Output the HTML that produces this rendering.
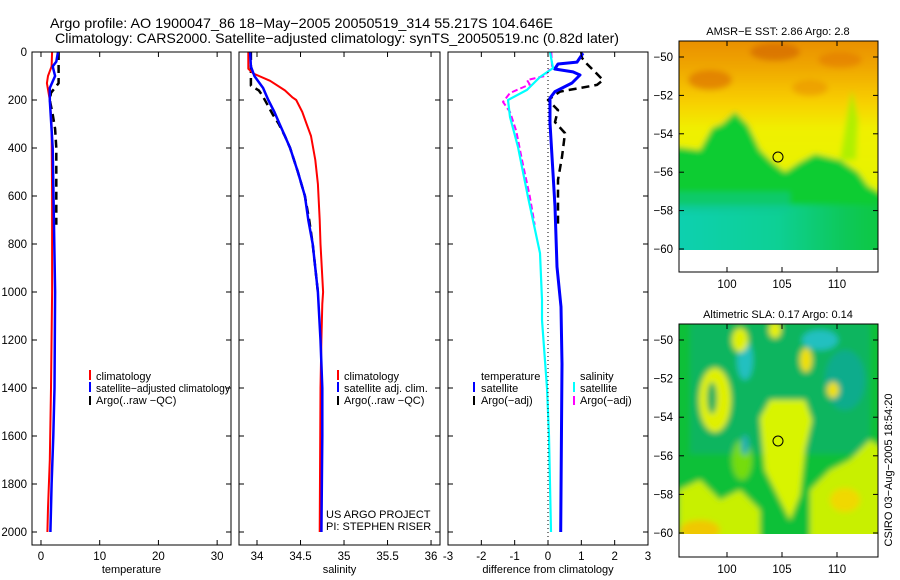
<!DOCTYPE html>
<html><head><meta charset="utf-8"><style>
html,body{margin:0;padding:0;background:#fff;}
svg{display:block;font-family:"Liberation Sans",sans-serif;}
</style></head><body>
<svg id="fig" width="900" height="580" viewBox="0 0 900 580">
<defs>
<filter id="blur3" x="-10%" y="-10%" width="120%" height="120%"><feGaussianBlur stdDeviation="3"/></filter>
<clipPath id="clipTop"><rect x="679" y="41" width="199" height="209"/></clipPath>
<clipPath id="clipBot"><rect x="679" y="324" width="199" height="210"/></clipPath>
<clipPath id="c1"><rect x="32" y="52" width="199" height="493"/></clipPath>
<clipPath id="c2"><rect x="239" y="52" width="201" height="493"/></clipPath>
<clipPath id="c3"><rect x="448" y="52" width="200" height="493"/></clipPath>
<linearGradient id="sstGrad" x1="0" y1="0" x2="0" y2="1">
<stop offset="0" stop-color="#e88a00"/><stop offset="0.15" stop-color="#f0a800"/><stop offset="0.3" stop-color="#f8d000"/><stop offset="0.42" stop-color="#f0f000"/><stop offset="1" stop-color="#d8f800"/>
</linearGradient>
<linearGradient id="cyanGrad" x1="0" y1="0" x2="1" y2="0">
<stop offset="0" stop-color="#10d0c0"/><stop offset="0.5" stop-color="#10d0a0"/><stop offset="0.8" stop-color="#10c860"/><stop offset="1" stop-color="#10c840"/>
</linearGradient>
</defs>

<text x="50" y="28" font-size="14" textLength="503" lengthAdjust="spacingAndGlyphs">Argo profile: AO 1900047_86 18−May−2005 20050519_314 55.217S 104.646E</text>
<text x="55" y="43" font-size="14" textLength="564" lengthAdjust="spacingAndGlyphs">Climatology: CARS2000. Satellite−adjusted climatology: synTS_20050519.nc (0.82d later)</text>

<g id="axes"></g>
<g id="series"></g>

<g>
<rect x="679" y="41" width="199" height="231" fill="#fff" stroke="#000" stroke-width="1"/>
<g clip-path="url(#clipTop)">
<g filter="url(#blur3)">
<rect x="670" y="35" width="215" height="225" fill="url(#sstGrad)"/>
<ellipse cx="710" cy="80" rx="22" ry="10" fill="#d86800" opacity="0.6"/>
<ellipse cx="775" cy="52" rx="25" ry="9" fill="#d06000" opacity="0.6"/>
<ellipse cx="840" cy="60" rx="22" ry="8" fill="#e07000" opacity="0.5"/>
<ellipse cx="810" cy="88" rx="18" ry="8" fill="#e88800" opacity="0.5"/>
<polygon points="670,146 700,150 712,128 722,124 735,112 748,125 760,150 772,162 785,172 800,162 815,154 840,160 858,172 868,186 885,195 885,260 670,260" fill="#10cc30"/>
<polygon points="840,160 848,110 852,90 858,120 856,160" fill="#a0f000" opacity="0.8"/>
<rect x="670" y="205" width="215" height="55" fill="url(#cyanGrad)" opacity="0.9"/>
<rect x="670" y="192" width="120" height="20" fill="#10c890" opacity="0.6"/>
</g>
</g>
<rect x="679" y="250" width="199" height="22" fill="#fff"/>
<rect x="679" y="41" width="199" height="231" fill="none" stroke="#000" stroke-width="1"/>
<circle cx="778" cy="157" r="5" fill="none" stroke="#000" stroke-width="1"/>
<text x="778" y="35" font-size="11" text-anchor="middle">AMSR−E SST: 2.86 Argo: 2.8</text>
</g>

<g>
<rect x="679" y="324" width="199" height="233" fill="#fff"/>
<g clip-path="url(#clipBot)">
<g filter="url(#blur3)">
<rect x="670" y="318" width="215" height="225" fill="#10c038"/>
<rect x="690" y="324" width="180" height="130" fill="#10b070" opacity="0.7"/>
<ellipse cx="745" cy="360" rx="8" ry="20" fill="#20c0c0"/>
<ellipse cx="820" cy="340" rx="18" ry="10" fill="#20c0c0"/>
<ellipse cx="845" cy="380" rx="20" ry="30" fill="#10a8a0" opacity="0.7"/>
<ellipse cx="715" cy="400" rx="16" ry="32" fill="#e0f000"/>
<ellipse cx="712" cy="398" rx="5" ry="16" fill="#20b060"/>
<ellipse cx="740" cy="340" rx="8" ry="12" fill="#e0f000"/>
<ellipse cx="775" cy="330" rx="6" ry="8" fill="#e8f000"/>
<ellipse cx="806" cy="360" rx="6" ry="12" fill="#f0e000"/>
<ellipse cx="833" cy="390" rx="6" ry="8" fill="#f0e000"/>
<polygon points="760,418 770,400 805,400 812,420 805,450 800,495 790,520 780,500 765,470 762,440" fill="#d8f400"/>
<polygon points="679,490 700,480 720,500 740,490 760,510 760,540 679,540" fill="#c8f000"/>
<polygon points="810,490 830,470 850,460 870,440 885,450 885,540 810,540" fill="#c8f000"/>
<ellipse cx="700" cy="530" rx="20" ry="10" fill="#f0c800"/>
<ellipse cx="845" cy="500" rx="15" ry="12" fill="#f0d800"/>
<ellipse cx="742" cy="460" rx="10" ry="20" fill="#a0e800" opacity="0.7"/>
<ellipse cx="745" cy="445" rx="4" ry="10" fill="#20b0b0"/>
</g>
</g>
<rect x="679" y="534" width="199" height="23" fill="#fff"/>
<rect x="679" y="324" width="199" height="233" fill="none" stroke="#000" stroke-width="1"/>
<circle cx="778" cy="441" r="5" fill="none" stroke="#000" stroke-width="1"/>
<text x="778" y="318" font-size="11" text-anchor="middle">Altimetric SLA: 0.17 Argo: 0.14</text>
<text x="0" y="0" font-size="11" text-anchor="middle" transform="translate(892,470) rotate(-90)">CSIRO 03−Aug−2005 18:54:20</text>
</g>

<g font-size="11">
<g>
<rect x="89" y="370" width="2" height="10" fill="#f00"/><text x="96" y="380">climatology</text>
<rect x="89" y="382" width="2" height="10" fill="#00f"/><text x="96" y="392" textLength="134" lengthAdjust="spacingAndGlyphs">satellite−adjusted climatology</text>
<rect x="89" y="396" width="2" height="9" fill="#000"/><text x="96" y="404">Argo(..raw −QC)</text>
</g>
<g>
<rect x="337" y="370" width="2" height="10" fill="#f00"/><text x="344" y="380">climatology</text>
<rect x="337" y="382" width="2" height="10" fill="#00f"/><text x="344" y="392">satellite adj. clim.</text>
<rect x="337" y="396" width="2" height="9" fill="#000"/><text x="344" y="404">Argo(..raw −QC)</text>
<text x="326" y="518">US ARGO PROJECT</text>
<text x="326" y="530">PI: STEPHEN RISER</text>
</g>
<g>
<text x="481" y="380">temperature</text>
<rect x="473" y="382" width="2" height="10" fill="#00f"/><text x="481" y="392">satellite</text>
<rect x="473" y="396" width="2" height="9" fill="#000"/><text x="481" y="404">Argo(−adj)</text>
<text x="580" y="380">salinity</text>
<rect x="573" y="382" width="2" height="10" fill="#0ff"/><text x="580" y="392">satellite</text>
<rect x="573" y="396" width="2" height="9" fill="#f0f"/><text x="580" y="404">Argo(−adj)</text>
</g>
</g>
</svg>

<script>
var tempClimP = [0, 60, 100, 130, 200, 300, 600, 1000, 1400, 1700, 1900, 2000];
var tempClimV = [1.9, 1.8, 1.2, 1.0, 1.5, 1.8, 1.9, 1.9, 1.7, 1.5, 1.2, 1.1];
var tempSatP = [0, 40, 60, 100, 150, 200, 400, 700, 1000, 1400, 1600, 1800, 2000];
var tempSatV = [2.9, 2.6, 2.0, 2.4, 1.5, 1.5, 2.0, 2.2, 2.4, 2.3, 2.1, 1.8, 1.6];
var tempArgoP = [0, 60, 130, 170, 200, 260, 320, 400, 550, 720];
var tempArgoV = [3.0, 3.0, 3.0, 1.7, 1.5, 2.0, 2.4, 2.6, 2.6, 2.6];

var salClimP = [0, 70, 90, 120, 160, 190, 200, 250, 300, 350, 450, 550, 700, 800, 1000, 1050, 1200, 1400, 2000];
var salClimV = [33.9, 33.9, 33.96, 34.15, 34.32, 34.41, 34.45, 34.52, 34.57, 34.62, 34.67, 34.7, 34.72, 34.73, 34.76, 34.75, 34.74, 34.73, 34.72];
var salSatP = [0, 60, 100, 150, 200, 250, 300, 350, 400, 500, 600, 700, 800, 1000, 1200, 1400, 1600, 2000];
var salSatV = [33.92, 33.93, 33.97, 34.07, 34.13, 34.2, 34.26, 34.32, 34.38, 34.47, 34.55, 34.59, 34.64, 34.7, 34.73, 34.75, 34.75, 34.74];
var salArgoP = [0, 140, 160, 180, 220, 260, 300, 350, 400, 500, 600, 700, 800, 1000];
var salArgoV = [33.93, 33.93, 34.02, 34.06, 34.12, 34.18, 34.25, 34.32, 34.38, 34.47, 34.55, 34.6, 34.64, 34.7];

var dTempSatP = [5, 42, 50, 71, 83, 96, 129, 165, 192, 296, 505, 645, 895, 1062, 1300, 2000];
var dTempSatV = [1.05, 0.87, 0.3, 0.2, 0.75, 0.96, 0.72, 0.21, 0.06, 0.06, 0.15, 0.21, 0.27, 0.39, 0.42, 0.38];
var dTempArgoP = [0, 25, 50, 83, 117, 137, 150, 165, 200, 242, 292, 338, 437, 533, 729];
var dTempArgoV = [1.0, 1.02, 1.17, 1.41, 1.65, 1.47, 0.96, 0.36, 0.0, 0.3, 0.21, 0.51, 0.42, 0.3, 0.3];
var dSalSatP = [0, 67, 104, 158, 200, 271, 396, 604, 838, 1033, 1117, 1400, 1600, 2000];
var dSalSatV = [0.06, 0.15, -0.24, -0.63, -1.2, -1.14, -0.9, -0.6, -0.24, -0.18, -0.18, -0.03, 0.03, 0.09];
var dSalArgoP = [0, 60, 100, 117, 135, 171, 208, 250, 330, 450, 600, 720];
var dSalArgoV = [0.1, 0.12, -0.1, -0.63, -0.55, -1.14, -1.35, -1.14, -0.95, -0.78, -0.55, -0.4];

var depthTicks = [0, 200, 400, 600, 800, 1000, 1200, 1400, 1600, 1800, 2000];
var tempTicks = [0, 10, 20, 30];
var salTicks = [34, 34.5, 35, 35.5, 36];
var salTickLabels = ["34", "34.5", "35", "35.5", "36"];
var diffTicks = [-3, -2, -1, 0, 1, 2, 3];
var latTicks = [-50, -52, -54, -56, -58, -60];
var lonTicks = [100, 105, 110];

var NS = "http://www.w3.org/2000/svg";
var axesG = document.getElementById("axes");
var seriesG = document.getElementById("series");
function mk(tag, attrs, parent) {
  var e = document.createElementNS(NS, tag);
  for (var k in attrs) e.setAttribute(k, attrs[k]);
  parent.appendChild(e);
  return e;
}
function yP(p) { return 52 + p * 0.24; }
var panels = [
  {x0: 32, x1: 231, vmin: -1.53, vmax: 32.36, clip: "c1"},
  {x0: 239, x1: 440, vmin: 33.793, vmax: 36.103, clip: "c2"},
  {x0: 448, x1: 648, vmin: -3, vmax: 3, clip: "c3"}
];
function xv(pi, v) { var p = panels[pi]; return p.x0 + (v - p.vmin) / (p.vmax - p.vmin) * (p.x1 - p.x0); }

panels.forEach(function (p, i) {
  var box = mk("rect", {x: p.x0, y: 52, width: p.x1 - p.x0, height: 493, fill: "none", stroke: "#000", "stroke-width": 1}, axesG);
  
  
  depthTicks.forEach(function (d) {
    var y = yP(d);
    var t1 = mk("line", {x1: p.x0, x2: p.x0 + 5, y1: y, y2: y, stroke: "#000"}, axesG);
    
    
    var t2 = mk("line", {x1: p.x1 - 5, x2: p.x1, y1: y, y2: y, stroke: "#000"}, axesG);
    
    
  });
});
depthTicks.forEach(function (d) {
  var t = mk("text", {x: 27, y: yP(d) + 4, "font-size": 11.5, "text-anchor": "end"}, axesG);
  t.textContent = String(d);
  
  
});
function xTicks(pi, ticks, labels, title) {
  ticks.forEach(function (v, j) {
    var x = xv(pi, v);
    var a = mk("line", {x1: x, x2: x, y1: 52, y2: 57, stroke: "#000"}, axesG);
    
    
    var b = mk("line", {x1: x, x2: x, y1: 540, y2: 545, stroke: "#000"}, axesG);
    
    
    var t = mk("text", {x: x, y: 560, "font-size": 11.5, "text-anchor": "middle"}, axesG);
    t.textContent = labels[j];
    
    
  });
  var p = panels[pi];
  var tt = mk("text", {x: (p.x0 + p.x1) / 2, y: 573, "font-size": 11, "text-anchor": "middle"}, axesG);
  tt.textContent = title;
  
  
}
xTicks(0, tempTicks, tempTicks.map(String), "temperature");
xTicks(1, salTicks, salTickLabels, "salinity");
xTicks(2, diffTicks, diffTicks.map(String), "difference from climatology");
var zl = mk("line", {x1: xv(2, 0), x2: xv(2, 0), y1: 52, y2: 545, stroke: "#000", "stroke-dasharray": "1,3"}, axesG);



function mapAxes(top, latY0, latY60, bottom) {
  latTicks.forEach(function (lat) {
    var y = latY0 + (lat + 50) / -10 * (latY60 - latY0);
    var a = mk("line", {x1: 679, x2: 684, y1: y, y2: y, stroke: "#000"}, axesG);
    
    
    var b = mk("line", {x1: 873, x2: 878, y1: y, y2: y, stroke: "#000"}, axesG);
    
    
    var t = mk("text", {x: 673, y: y + 4, "font-size": 11.5, "text-anchor": "end"}, axesG);
    t.textContent = "−" + Math.abs(lat);
    
    
  });
  lonTicks.forEach(function (lon) {
    var x = 727 + (lon - 100) * 11;
    var a = mk("line", {x1: x, x2: x, y1: top, y2: top + 5, stroke: "#000"}, axesG);
    
    
    var b = mk("line", {x1: x, x2: x, y1: bottom - 5, y2: bottom, stroke: "#000"}, axesG);
    
    
    var t = mk("text", {x: x, y: bottom + 16, "font-size": 11.5, "text-anchor": "middle"}, axesG);
    t.textContent = String(lon);
    
    
  });
}

function line(pi, P, V, color, w, dash, name) {
  var pts = P.map(function (p, i) { return xv(pi, V[i]).toFixed(1) + "," + yP(p).toFixed(1); }).join(" ");
  var a = {points: pts, fill: "none", stroke: color, "stroke-width": w, "stroke-linejoin": "round", "clip-path": "url(#" + panels[pi].clip + ")"};
  if (dash) a["stroke-dasharray"] = dash;
  var e = mk("polyline", a, seriesG);
  
  
}
line(0, tempArgoP, tempArgoV, "#000", 2.5, "8,5", "temperature-argo-line");
line(0, tempClimP, tempClimV, "#f00", 2, null, "temperature-climatology-line");
line(0, tempSatP, tempSatV, "#00f", 2.5, null, "temperature-satellite-line");
line(1, salArgoP, salArgoV, "#000", 2.5, "8,5", "salinity-argo-line");
line(1, salClimP, salClimV, "#f00", 2, null, "salinity-climatology-line");
line(1, salSatP, salSatV, "#00f", 2.5, null, "salinity-satellite-line");
line(2, dTempArgoP, dTempArgoV, "#000", 2.5, "8,5", "temp-diff-argo-line");
line(2, dTempSatP, dTempSatV, "#00f", 3, null, "temp-diff-satellite-line");
line(2, dSalArgoP, dSalArgoV, "#f0f", 2, "6,3", "sal-diff-argo-line");
line(2, dSalSatP, dSalSatV, "#0ff", 2.2, null, "sal-diff-satellite-line");

mapAxes(41, 57, 249, 272);
mapAxes(324, 340, 533, 557);
document.getElementById("fig").appendChild(axesG);
</script>
</body></html>
